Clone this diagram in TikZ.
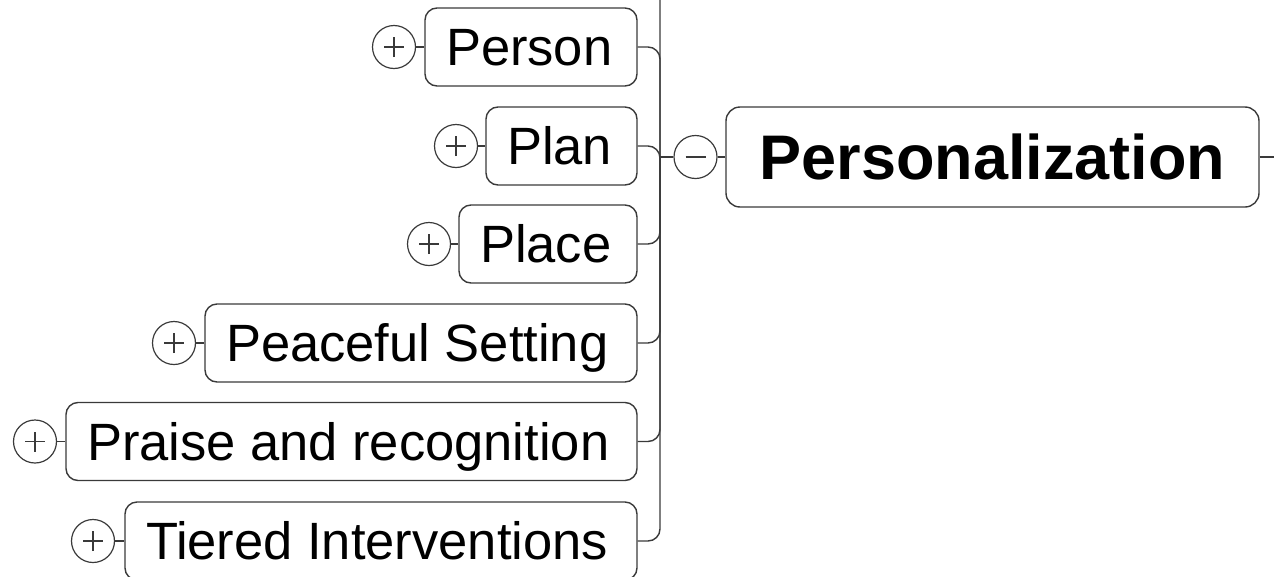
\documentclass[tikz,border=0pt]{standalone}
\usepackage{fontspec}
\setmainfont{Liberation Sans}
\definecolor{edge}{HTML}{3A3A3A}
\newcommand{\mylbl}[2]{\makebox[#1][l]{#2}}
\begin{document}
\begin{tikzpicture}[x=1pt,y=-1pt,
  topic/.style={draw=edge,line width=1.4pt,rounded corners=12pt,inner sep=0pt,minimum height=78pt,minimum width=#1,text height=37.6pt,text depth=0pt,font=\fontsize{52.5}{60}\selectfont,text=black},
  maintopic/.style={draw=edge,line width=1.4pt,rounded corners=14pt,inner sep=0pt,minimum height=100pt,minimum width=533pt,text height=45.1pt,text depth=0pt,font=\fontsize{63}{72}\selectfont\bfseries,text=black},
  toggle/.style={draw=edge,line width=1.2pt,circle,inner sep=0pt,minimum size=43pt},
  conn/.style={draw=edge,line width=1.4pt}]
\useasboundingbox (0,0) rectangle (1274,576);
% children
\node[topic=212pt] (person) at (531,47) {\mylbl{170pt}{Person}};
\node[topic=151pt] (plan) at (561.5,146) {\mylbl{109pt}{Plan}};
\node[topic=178pt] (place) at (548,244) {\mylbl{136pt}{Place}};
\node[topic=432pt] (peace) at (421,343) {\mylbl{390pt}{Peaceful Setting}};
\node[topic=571pt] (praise) at (351.5,441.5) {\mylbl{529pt}{Praise and recognition}};
\node[topic=512pt] (tiered) at (381,541) {\mylbl{470pt}{Tiered Interventions}};
% toggles
\foreach \n/\x/\y in {person/394/47, plan/456/146, place/429/244, peace/174/343, praise/35/441.5, tiered/93/541}{
  \node[toggle] (\n plus) at (\x,\y) {};
  \draw[edge,line width=1.2pt] ([xshift=-10pt]\n plus.center) -- ([xshift=10pt]\n plus.center);
  \draw[edge,line width=1.2pt] ([yshift=-10pt]\n plus.center) -- ([yshift=10pt]\n plus.center);
  \draw[conn] (\n plus.east) -- (\n.west);
}
% main
\node[maintopic] (main) at (992.5,157) {Personalization};
\node[toggle] (minus) at (695.5,157) {};
\draw[edge,line width=1.2pt] ([xshift=-10pt]minus.center) -- ([xshift=10pt]minus.center);
\coordinate (trunk) at (660,157);
\coordinate (top) at (660,0);
\coordinate (out) at (1274,157);
% trunk
\draw[conn,rounded corners=12pt] (top) -- (trunk |- tiered.east) -- (tiered.east);
\foreach \n in {person,plan,place,peace,praise}{
  \draw[conn,rounded corners=12pt] (\n.east) -- (trunk |- \n.east) -- (trunk);
}
\draw[conn] (trunk) -- (minus.west);
\draw[conn] (minus.east) -- (main.west);
\draw[conn] (main.east) -- (out);
\end{tikzpicture}
\end{document}
